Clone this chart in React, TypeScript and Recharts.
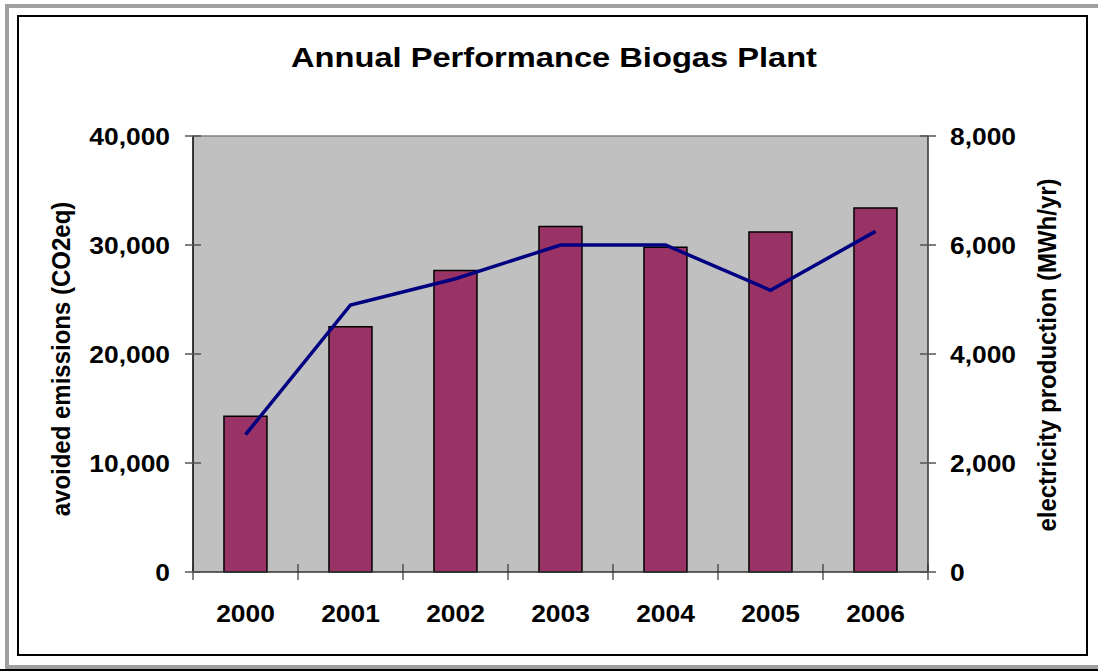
import React from 'react';
import {
  ComposedChart,
  Bar,
  Line,
  XAxis,
  YAxis,
  CartesianGrid,
  ReferenceLine,
} from 'recharts';

// values
const years = ['2000', '2001', '2002', '2003', '2004', '2005', '2006'];
const avoidedEmissions = [14300, 22500, 27650, 31700, 29800, 31200, 33400];
const electricity = [2520, 4900, 5380, 6000, 6000, 5170, 6250];
const leftTicks = [0, 10000, 20000, 30000, 40000];
const rightTicks = [0, 2000, 4000, 6000, 8000];

const W = 1098;
const H = 671;
const PLOT_LEFT = 193;
const PLOT_RIGHT = 928;
const PLOT_TOP = 136;
const PLOT_BOTTOM = 572;
const BAND = (PLOT_RIGHT - PLOT_LEFT) / years.length;
const FONT = '"Liberation Sans", Arial, sans-serif';

const data = years.map((year, i) => ({
  year,
  emissions: avoidedEmissions[i],
  electricity: electricity[i],
}));

const fmt = (v: number) => v.toLocaleString('en-US');

function LeftTick({ x, y, payload }: any) {
  return (
    <g>
      <line x1={x - 8} x2={x + 8} y1={y} y2={y} stroke="#555" strokeWidth={1.5} />
      <text
        transform={`translate(${x - 23},${y}) scale(1.1,1)`}
        textAnchor="end"
        dominantBaseline="central"
        fontFamily={FONT}
        fontWeight="bold"
        fontSize={24}
        fill="#000"
      >
        {fmt(payload.value)}
      </text>
    </g>
  );
}

function RightTick({ x, y, payload }: any) {
  return (
    <g>
      <line x1={x - 8} x2={x + 8} y1={y} y2={y} stroke="#555" strokeWidth={1.5} />
      <text
        transform={`translate(${x + 22},${y}) scale(1.1,1)`}
        textAnchor="start"
        dominantBaseline="central"
        fontFamily={FONT}
        fontWeight="bold"
        fontSize={24}
        fill="#000"
      >
        {fmt(payload.value)}
      </text>
    </g>
  );
}

function BottomTick({ x, y, payload, index }: any) {
  const last = index === years.length - 1;
  return (
    <g>
      <line x1={x - BAND / 2} x2={x - BAND / 2} y1={y - 8} y2={y + 8} stroke="#333" strokeWidth={1.2} />
      {last && (
        <line x1={x + BAND / 2} x2={x + BAND / 2} y1={y - 8} y2={y + 8} stroke="#333" strokeWidth={1.2} />
      )}
      <text
        transform={`translate(${x},${y + 41}) scale(1.1,1)`}
        textAnchor="middle"
        dominantBaseline="central"
        fontFamily={FONT}
        fontWeight="bold"
        fontSize={24}
        fill="#000"
      >
        {payload.value}
      </text>
    </g>
  );
}

const leftLabel = () => (
  <text
    transform="translate(61,359) rotate(-90) scale(1,1.05)"
    textAnchor="middle"
    dominantBaseline="central"
    fontFamily={FONT}
    fontWeight="bold"
    fontSize={24}
    fill="#000"
  >
    avoided emissions (CO2eq)
  </text>
);

const rightLabel = () => (
  <text
    transform="translate(1047,355) rotate(-90) scale(1,1.05)"
    textAnchor="middle"
    dominantBaseline="central"
    fontFamily={FONT}
    fontWeight="bold"
    fontSize={24}
    fill="#000"
  >
    electricity production (MWh/yr)
  </text>
);

export default function App() {
  return (
    <div style={{ position: 'absolute', left: 0, top: 0, width: W, height: H, background: '#fff' }}>
      {/* outer grey frame and inner black frame */}
      <div
        style={{
          position: 'absolute',
          left: 5,
          top: 4,
          width: W - 5,
          height: 665,
          border: '4px solid #a0a0a0',
          borderRight: 'none',
          boxSizing: 'border-box',
        }}
      />
      <div style={{ position: 'absolute', left: 0, top: 669, width: W, height: 2, background: '#000' }} />
      <div
        style={{
          position: 'absolute',
          left: 17,
          top: 15,
          width: 1071,
          height: 641,
          border: '2px solid #000',
          boxSizing: 'border-box',
        }}
      />
      <svg style={{ position: 'absolute', left: 0, top: 0 }} width={W} height={H}>
        <text
          x={554}
          y={57}
          textAnchor="middle"
          dominantBaseline="central"
          fontFamily={FONT}
          fontWeight="bold"
          fontSize={28}
          textLength={526}
          lengthAdjust="spacingAndGlyphs"
          fill="#000"
        >
          Annual Performance Biogas Plant
        </text>
      </svg>
      <div style={{ position: 'absolute', left: 0, top: 0 }}>
        <ComposedChart
          width={W}
          height={H}
          data={data}
          margin={{ top: PLOT_TOP, right: 0, bottom: 0, left: 0 }}
          barCategoryGap="29.5%"
        >
          <CartesianGrid fill="#c0c0c0" horizontal={false} vertical={false} stroke="none" />
          <XAxis
            dataKey="year"
            height={H - PLOT_BOTTOM}
            axisLine={{ stroke: '#333', strokeWidth: 1.5 }}
            tickLine={false}
            tickSize={0}
            tickMargin={0}
            interval={0}
            tick={<BottomTick />}
          />
          <YAxis
            yAxisId="left"
            orientation="left"
            width={PLOT_LEFT}
            domain={[0, 40000]}
            ticks={leftTicks}
            axisLine={{ stroke: '#000', strokeWidth: 1.5 }}
            tickLine={false}
            tickSize={0}
            tickMargin={0}
            interval={0}
            tick={<LeftTick />}
            label={leftLabel}
          />
          <YAxis
            yAxisId="right"
            orientation="right"
            width={W - PLOT_RIGHT}
            domain={[0, 8000]}
            ticks={rightTicks}
            axisLine={{ stroke: '#333', strokeWidth: 1.5 }}
            tickLine={false}
            tickSize={0}
            tickMargin={0}
            interval={0}
            tick={<RightTick />}
            label={rightLabel}
          />
          <ReferenceLine yAxisId="left" y={40000} stroke="#808080" strokeWidth={1.5} />
          <Bar
            yAxisId="left"
            dataKey="emissions"
            fill="#993366"
            stroke="#000"
            strokeWidth={1.5}
            isAnimationActive={false}
          />
          <Line
            yAxisId="right"
            dataKey="electricity"
            type="linear"
            stroke="#000080"
            strokeWidth={3.5}
            dot={false}
            activeDot={false}
            isAnimationActive={false}
          />
        </ComposedChart>
      </div>
    </div>
  );
}
